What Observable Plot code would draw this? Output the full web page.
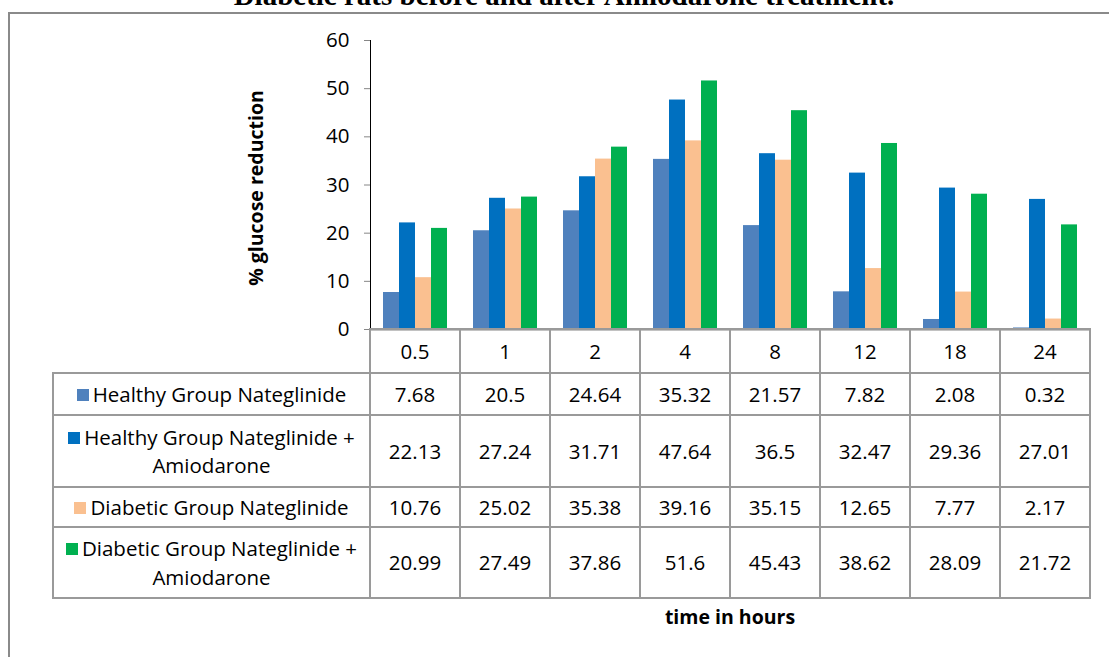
<!DOCTYPE html>
<html>
<head>
<meta charset="utf-8">
<script src="https://cdn.jsdelivr.net/npm/d3@7"></script>
<script src="https://cdn.jsdelivr.net/npm/@observablehq/plot@0.6"></script>
<style>
  html, body { margin: 0; padding: 0; background: #fff; }
  #wrap { position: relative; width: 1109px; height: 657px; overflow: hidden; background: #fff; font-family: "Open Sans", sans-serif; }
  #frame { position: absolute; left: 8px; top: 12px; width: 1300px; height: 900px; border: 2px solid #8a8a8a; box-sizing: border-box; }
  #title { position: absolute; left: 0; top: 0; }
  #chart { position: absolute; left: 0; top: 0; }
  #chart svg g[aria-label^="y-axis"] line, #chart svg g[aria-label^="y-axis"] path { stroke: #868686; }
  #chart svg g[aria-label^="y-axis"] text { fill: #000; }
  #ylabel { position: absolute; left: 255px; top: 188px; transform: translate(-50%, -50%) rotate(-90deg); white-space: nowrap; font-weight: bold; font-size: 19.5px; color: #000; }
  #xlabel { position: absolute; left: 730px; top: 603px; transform: translateX(-50%); white-space: nowrap; font-weight: bold; font-size: 19.5px; color: #000; }
  table { position: absolute; left: 52px; top: 328px; border-collapse: collapse; table-layout: fixed; font-size: 20.5px; color: #000; }
  td { border: 2px solid #9a9a9a; text-align: center; padding: 0; line-height: 1.2; }
  td.lab2 { line-height: 1.37; }
  td.blank { border-top: hidden; border-left: hidden; }
  .sw { display: inline-block; width: 12px; height: 12px; margin-right: 4px; vertical-align: 1px; }
</style>
</head>
<body>
<div id="wrap">
  <div id="frame"></div>
  <svg id="title" width="1109" height="20"><text x="564" y="5" text-anchor="middle" font-family="'Liberation Serif', serif" font-weight="bold" font-size="29">Diabetic rats before and after Amiodarone treatment.</text></svg>
  <div id="chart"></div>
  <div id="ylabel">% glucose reduction</div>
  <div id="xlabel">time in hours</div>
</div>
<script>
const times = ["0.5", "1", "2", "4", "8", "12", "18", "24"];
const seriesNames = [
  "Healthy Group Nateglinide",
  "Healthy Group Nateglinide + Amiodarone",
  "Diabetic Group Nateglinide",
  "Diabetic Group Nateglinide + Amiodarone"
];
const seriesColors = ["#4F81BD", "#0070C0", "#FAC090", "#00B050"];
const healthyNateglinide = [7.68, 20.5, 24.64, 35.32, 21.57, 7.82, 2.08, 0.32];
const healthyNateglinideAmiodarone = [22.13, 27.24, 31.71, 47.64, 36.5, 32.47, 29.36, 27.01];
const diabeticNateglinide = [10.76, 25.02, 35.38, 39.16, 35.15, 12.65, 7.77, 2.17];
const diabeticNateglinideAmiodarone = [20.99, 27.49, 37.86, 51.6, 45.43, 38.62, 28.09, 21.72];
const yTicks = [0, 10, 20, 30, 40, 50, 60];
const rowHeights = [42, 72, 40, 71];

const seriesValues = [healthyNateglinide, healthyNateglinideAmiodarone, diabeticNateglinide, diabeticNateglinideAmiodarone];
const rows = [];
times.forEach((t, i) => seriesNames.forEach((s, j) => rows.push({time: t, series: s, value: seriesValues[j][i]})));

const chart = Plot.plot({
  width: 1109,
  height: 340,
  marginLeft: 370,
  marginRight: 19,
  marginTop: 40,
  marginBottom: 11,
  style: {fontFamily: "'Open Sans', sans-serif", fontSize: "20.5px", color: "#000", background: "transparent", overflow: "visible"},
  facet: {data: rows, x: "time"},
  fx: {domain: times, padding: 0, axis: null, label: null},
  x: {domain: seriesNames, paddingInner: 0, paddingOuter: 0.727, axis: null},
  y: {domain: [0, 60], ticks: yTicks, tickSize: 6, tickPadding: 15, line: true, label: null},
  color: {domain: seriesNames, range: seriesColors},
  marks: [
    Plot.barY(rows, {x: "series", y: "value", fill: "series"}),
    Plot.ruleY([0], {stroke: "#868686", strokeWidth: 2})
  ]
});
document.getElementById("chart").appendChild(chart);

// data table below the chart
const table = document.createElement("table");
const cg = document.createElement("colgroup");
[317, ...times.map(() => 90)].forEach(w => { const c = document.createElement("col"); c.style.width = w + "px"; cg.appendChild(c); });
table.appendChild(cg);
const hr = document.createElement("tr");
hr.style.height = "44px";
const blank = document.createElement("td"); blank.className = "blank"; hr.appendChild(blank);
times.forEach(t => { const td = document.createElement("td"); td.textContent = t; hr.appendChild(td); });
table.appendChild(hr);
seriesNames.forEach((s, j) => {
  const tr = document.createElement("tr");
  tr.style.height = rowHeights[j] + "px";
  const lab = document.createElement("td");
  const sw = document.createElement("span"); sw.className = "sw"; sw.style.background = seriesColors[j];
  lab.appendChild(sw);
  const parts = s.split(" + ");
  lab.appendChild(document.createTextNode(parts[0] + (parts.length > 1 ? " +" : "")));
  if (parts.length > 1) { lab.className = "lab2"; lab.appendChild(document.createElement("br")); lab.appendChild(document.createTextNode(parts[1])); }
  tr.appendChild(lab);
  seriesValues[j].forEach(v => { const td = document.createElement("td"); td.textContent = String(v); tr.appendChild(td); });
  table.appendChild(tr);
});
document.getElementById("wrap").appendChild(table);
</script>
</body>
</html>
